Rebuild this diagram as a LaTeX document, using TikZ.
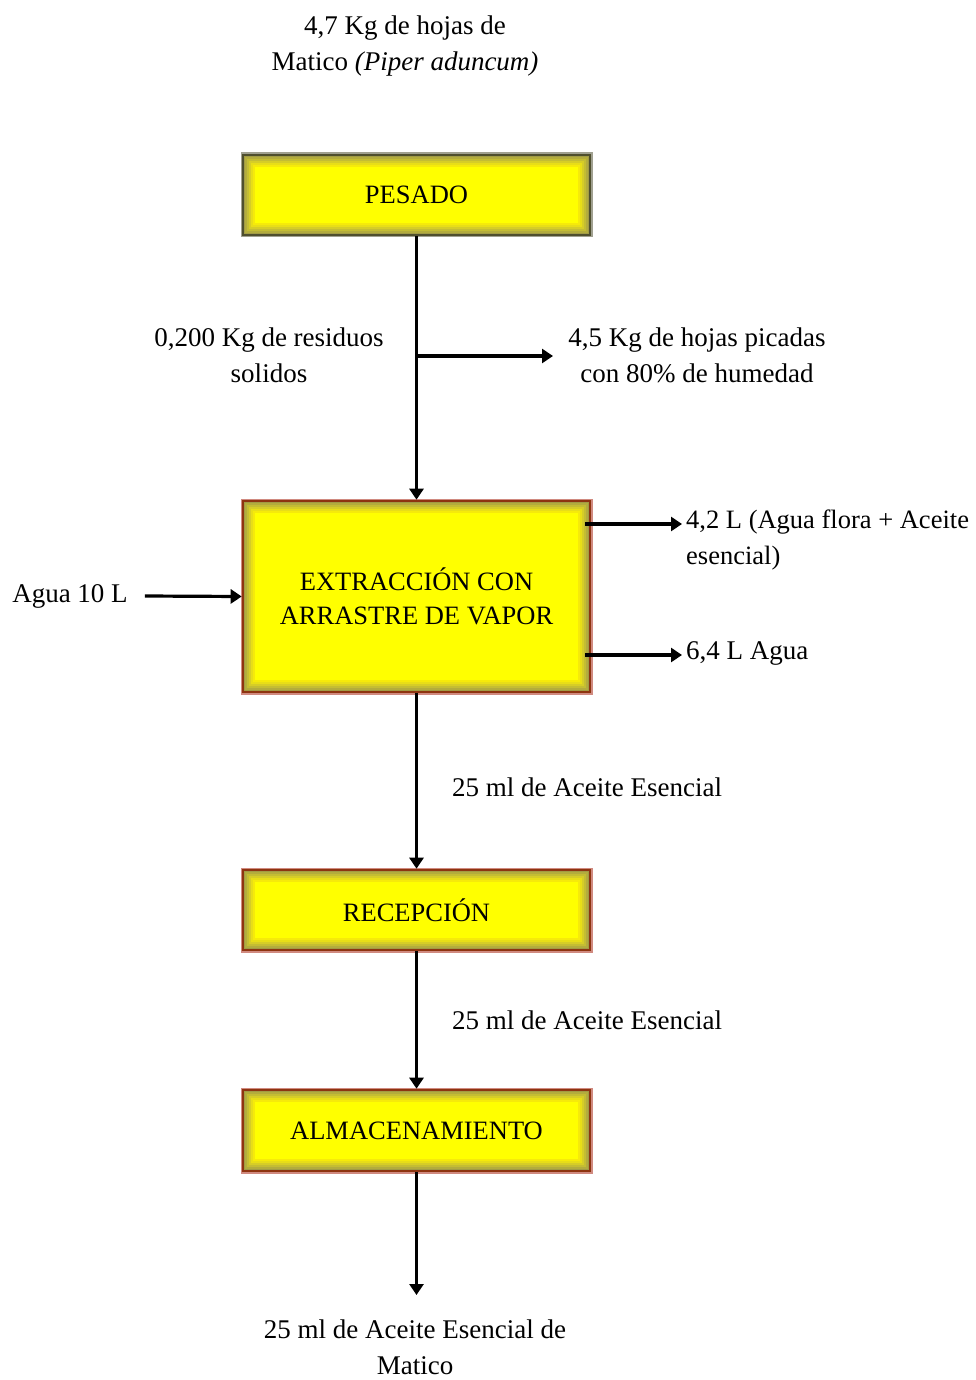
\documentclass[tikz,border=0pt]{standalone}
\usepackage{fontspec}
\setmainfont{Liberation Serif}
\usetikzlibrary{arrows.meta}
\definecolor{boxfill}{HTML}{FFFF00}
\definecolor{edgered}{HTML}{8E3410}
\definecolor{halored}{HTML}{D08A80}
\definecolor{edgegray}{HTML}{4F4F2E}
\definecolor{halogray}{HTML}{A0A090}
\tikzset{
  procbox/.style={
    rectangle, fill=boxfill, minimum width=347pt, inner sep=0pt,
    font=\fontsize{26.5}{34}\selectfont,
    path picture={
      \foreach \i/\c in {1/58,2/66,3/74,4/82,5/90,6/96}{
        \draw[line width=2pt, draw=yellow!\c!black]
          ([shift={(\i*2pt-1pt,-\i*2pt+1pt)}]path picture bounding box.north west)
          rectangle
          ([shift={(-\i*2pt+1pt,\i*2pt-1pt)}]path picture bounding box.south east);
      }
    }},
  redbox/.style={procbox, draw=edgered, line width=2.6pt,
    preaction={draw=halored, line width=5pt}},
  graybox/.style={procbox, draw=edgegray, line width=2.6pt,
    preaction={draw=halogray, line width=5pt}},
  lbl/.style={font=\fontsize{27}{36}\selectfont, inner sep=0pt, align=center},
  lbll/.style={lbl, align=left},
  flow/.style={draw=black, line width=3.2pt,
    -{Triangle[length=11pt,width=14pt]}},
}
\begin{document}
\begin{tikzpicture}[x=1pt,y=-1pt]
\useasboundingbox (0,0) rectangle (976,1380);

% process steps
\node[graybox, minimum height=80pt]  (pes) at (416.5,195)   {PESADO};
\node[redbox,  minimum height=191pt, align=center] (ext) at (416.5,596.5)
  {EXTRACCIÓN CON\\ARRASTRE DE VAPOR};
\node[redbox,  minimum height=80pt]  (rec) at (416.5,910)   {RECEPCIÓN};
\node[redbox,  minimum height=81pt]  (alm) at (416.5,1130.5) {ALMACENAMIENTO};

% stream labels
\node[lbl] (raw)  at (405,46)  {4,7 Kg de hojas de\\Matico \textit{(Piper aduncum)}};
\node[lbl] (res)  at (269,355) {0,200 Kg de residuos\\solidos};
\node[lbl] (chop) at (697,355) {4,5 Kg de hojas picadas\\con 80\% de humedad};
\node[lbl] (agua) at (70,596)  {Agua 10 L};
\node[lbll, anchor=west, font=\fontsize{26.5}{36}\selectfont] (flor) at (686,540)
  {4,2 L (Agua flora + Aceite\\esencial)};
\node[lbll, anchor=west] (agout) at (686,653) {6,4 L Agua};
\node[lbll, anchor=west] (oil1) at (452,787)  {25 ml de Aceite Esencial};
\node[lbll, anchor=west] (oil2) at (452,1020) {25 ml de Aceite Esencial};
\node[lbl] (prod) at (415,1347) {25 ml de Aceite Esencial de\\Matico};

% connector end points
\coordinate (brs) at (415,356);
\coordinate (bre) at (553,356);
\coordinate (o1s) at (585,524);
\coordinate (o1e) at (682,524);
\coordinate (o2s) at (585,655);
\coordinate (o2e) at (682,655);
\coordinate (fin) at (416.5,1295);

% connectors
\draw[flow] (pes.south) -- (ext.north);
\draw[flow] (brs) -- (bre);
\draw[flow] ([xshift=17pt]agua.east) -- (ext.west);
\draw[flow] (o1s) -- (o1e);
\draw[flow] (o2s) -- (o2e);
\draw[flow] (ext.south) -- (rec.north);
\draw[flow] (rec.south) -- (alm.north);
\draw[flow] (alm.south) -- (fin);
\end{tikzpicture}
\end{document}
